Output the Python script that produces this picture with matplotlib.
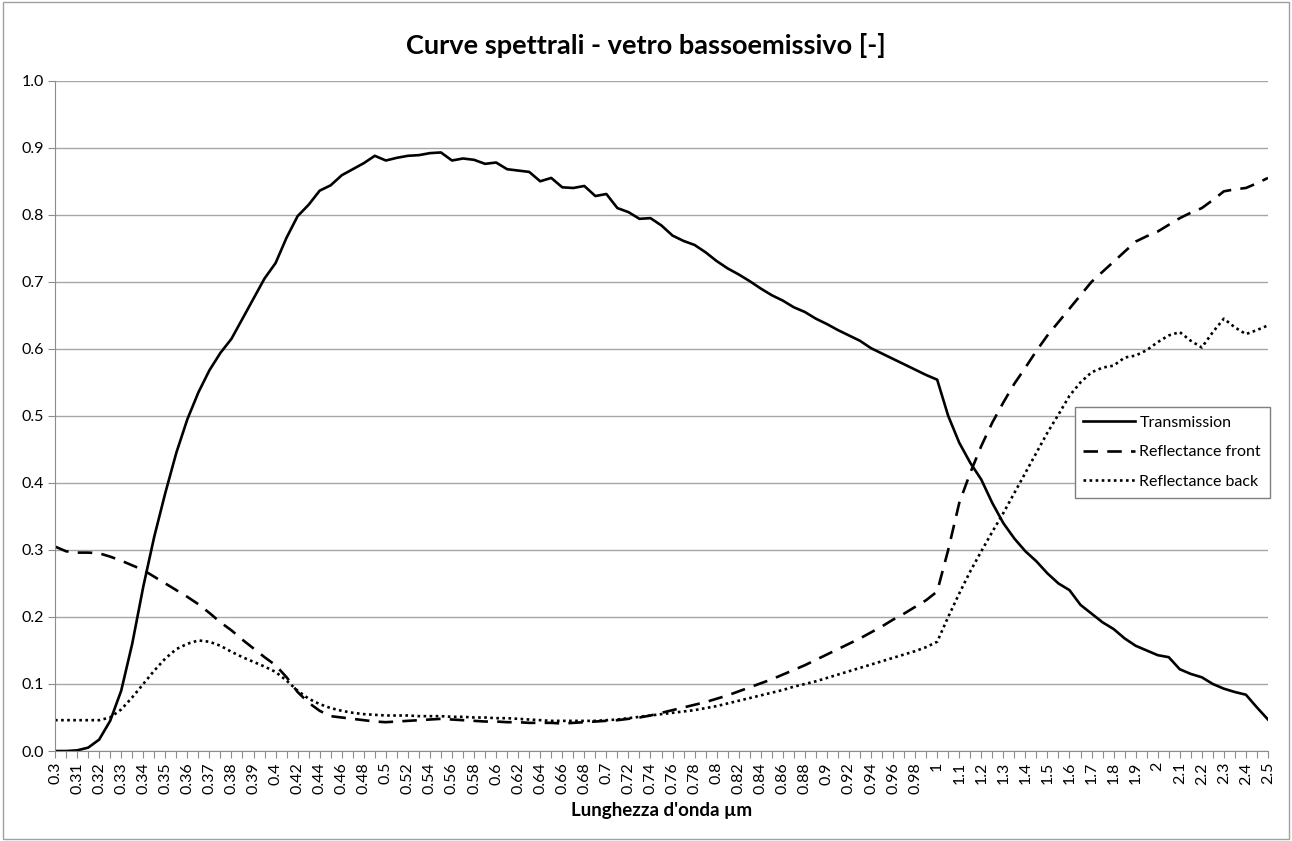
import matplotlib
matplotlib.use("Agg")
import matplotlib.pyplot as plt
from matplotlib.patches import Rectangle

plt.rcParams['font.family'] = ['Lato', 'DejaVu Sans']

# wavelength categories (um)
wavelength = [0.3, 0.305, 0.31, 0.315, 0.32, 0.325, 0.33, 0.335, 0.34, 0.345,
              0.35, 0.355, 0.36, 0.365, 0.37, 0.375, 0.38, 0.385, 0.39, 0.395,
              0.4, 0.41, 0.42, 0.43, 0.44, 0.45, 0.46, 0.47, 0.48, 0.49,
              0.5, 0.51, 0.52, 0.53, 0.54, 0.55, 0.56, 0.57, 0.58, 0.59,
              0.6, 0.61, 0.62, 0.63, 0.64, 0.65, 0.66, 0.67, 0.68, 0.69,
              0.7, 0.71, 0.72, 0.73, 0.74, 0.75, 0.76, 0.77, 0.78, 0.79,
              0.8, 0.81, 0.82, 0.83, 0.84, 0.85, 0.86, 0.87, 0.88, 0.89,
              0.9, 0.91, 0.92, 0.93, 0.94, 0.95, 0.96, 0.97, 0.98, 0.99,
              1.0, 1.05, 1.1, 1.15, 1.2, 1.25, 1.3, 1.35, 1.4, 1.45,
              1.5, 1.55, 1.6, 1.65, 1.7, 1.75, 1.8, 1.85, 1.9, 1.95,
              2.0, 2.05, 2.1, 2.15, 2.2, 2.25, 2.3, 2.35, 2.4, 2.45, 2.5]

transmission = [0.000, 0.000, 0.001, 0.005, 0.017, 0.045, 0.090, 0.160, 0.245, 0.320,
                0.385, 0.445, 0.495, 0.535, 0.568, 0.594, 0.615, 0.645, 0.675, 0.705,
                0.728, 0.766, 0.798, 0.815, 0.836, 0.844, 0.859, 0.868, 0.877, 0.888,
                0.881, 0.885, 0.888, 0.889, 0.892, 0.893, 0.881, 0.884, 0.882, 0.876,
                0.878, 0.868, 0.866, 0.864, 0.850, 0.855, 0.841, 0.840, 0.843, 0.828,
                0.831, 0.810, 0.804, 0.794, 0.795, 0.784, 0.769, 0.761, 0.755, 0.744,
                0.731, 0.720, 0.711, 0.701, 0.690, 0.680, 0.672, 0.662, 0.655, 0.645,
                0.637, 0.628, 0.620, 0.612, 0.601, 0.593, 0.585, 0.577, 0.569, 0.561,
                0.554, 0.500, 0.460, 0.430, 0.405, 0.370, 0.340, 0.317, 0.298, 0.283,
                0.265, 0.250, 0.240, 0.218, 0.205, 0.192, 0.182, 0.168, 0.157, 0.150,
                0.143, 0.140, 0.122, 0.115, 0.110, 0.100, 0.093, 0.088, 0.084, 0.065,
                0.047]

refl_front = [0.305, 0.298, 0.296, 0.296, 0.295, 0.290, 0.284, 0.277, 0.270, 0.260,
              0.250, 0.240, 0.230, 0.219, 0.206, 0.192, 0.180, 0.166, 0.153, 0.140,
              0.128, 0.110, 0.088, 0.072, 0.060, 0.052, 0.050, 0.048, 0.046, 0.044,
              0.043, 0.044, 0.045, 0.046, 0.047, 0.048, 0.047, 0.046, 0.045, 0.044,
              0.044, 0.043, 0.043, 0.042, 0.042, 0.042, 0.041, 0.042, 0.043, 0.044,
              0.045, 0.046, 0.048, 0.050, 0.053, 0.057, 0.061, 0.065, 0.069, 0.073,
              0.078, 0.083, 0.089, 0.095, 0.101, 0.107, 0.114, 0.121, 0.128, 0.136,
              0.144, 0.152, 0.160, 0.168, 0.177, 0.186, 0.196, 0.205, 0.215, 0.225,
              0.238, 0.300, 0.370, 0.415, 0.455, 0.490, 0.520, 0.548, 0.572, 0.597,
              0.620, 0.640, 0.660, 0.680, 0.700, 0.715, 0.730, 0.745, 0.760, 0.768,
              0.775, 0.785, 0.795, 0.803, 0.810, 0.822, 0.835, 0.838, 0.840, 0.847,
              0.855]

refl_back = [0.046, 0.046, 0.046, 0.046, 0.046, 0.050, 0.062, 0.080, 0.100, 0.120,
             0.138, 0.152, 0.160, 0.165, 0.163, 0.157, 0.148, 0.140, 0.133, 0.126,
             0.118, 0.105, 0.090, 0.078, 0.070, 0.064, 0.060, 0.057, 0.055, 0.054,
             0.053, 0.053, 0.053, 0.052, 0.052, 0.052, 0.051, 0.051, 0.050, 0.050,
             0.049, 0.049, 0.048, 0.047, 0.046, 0.045, 0.045, 0.045, 0.045, 0.045,
             0.046, 0.047, 0.049, 0.051, 0.053, 0.055, 0.057, 0.059, 0.061, 0.064,
             0.067, 0.071, 0.075, 0.079, 0.083, 0.087, 0.091, 0.096, 0.100, 0.104,
             0.109, 0.114, 0.119, 0.124, 0.129, 0.134, 0.139, 0.144, 0.149, 0.155,
             0.163, 0.200, 0.235, 0.268, 0.298, 0.327, 0.355, 0.385, 0.415, 0.445,
             0.475, 0.502, 0.530, 0.550, 0.565, 0.572, 0.575, 0.587, 0.590, 0.598,
             0.610, 0.620, 0.625, 0.612, 0.602, 0.625, 0.645, 0.632, 0.622, 0.628,
             0.635]

grey = '#8c8c8c'

fig = plt.figure(figsize=(12.92, 8.41), dpi=100)
ax = fig.add_axes([0.0426, 0.107, 0.9388, 0.797])

pos = list(range(len(wavelength)))
ax.plot(pos, transmission, color='black', lw=1.9, solid_joinstyle='round', label='Transmission')
ax.plot(pos, refl_front, color='black', lw=1.9, linestyle=(0, (5.5, 3.5)), label='Reflectance front')
ax.plot(pos, refl_back, color='black', lw=1.9, linestyle=(0, (1, 1.3)), label='Reflectance back')

ax.set_xlim(0, len(wavelength) - 1)
ax.set_ylim(0, 1.0)
ax.set_yticks([i / 10 for i in range(11)])
ax.set_yticklabels(['%.1f' % (i / 10) for i in range(11)], fontsize=11.5)
ax.set_xticks(pos)
ax.set_xticklabels(['%g' % w if i % 2 == 0 else '' for i, w in enumerate(wavelength)],
                   rotation=90, fontsize=11.5)

ax.grid(axis='y', color='#a6a6a6', lw=1)
ax.set_axisbelow(True)
for s in ['top', 'right']:
    ax.spines[s].set_visible(False)
for s in ['left', 'bottom']:
    ax.spines[s].set_color(grey)
ax.tick_params(axis='both', direction='out', length=5, color=grey, pad=3)

ax.set_xlabel("Lunghezza d'onda µm", fontsize=13.5, fontweight='bold', labelpad=6)
fig.text(0.5, 0.946, 'Curve spettrali - vetro bassoemissivo [-]', ha='center', va='center',
         fontsize=19.5, fontweight='bold')

leg = ax.legend(loc='upper left', bbox_to_anchor=(0.834, 0.525), fontsize=11.5,
                handlelength=3.2, handletextpad=0.3, labelspacing=0.95,
                fancybox=False, framealpha=1, borderpad=0.55)
leg.get_frame().set_edgecolor('#7f7f7f')
leg.get_frame().set_linewidth(1)

fig.patches.append(Rectangle((0.002, 0.002), 0.996, 0.996, transform=fig.transFigure,
                             fill=False, edgecolor='#a0a0a0', lw=1))

fig.savefig('out.png', dpi=100)
